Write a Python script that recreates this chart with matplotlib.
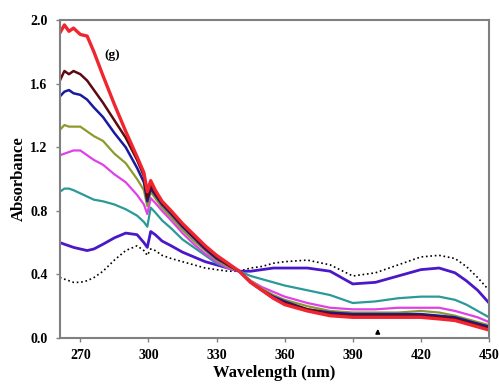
import numpy as np
import matplotlib.pyplot as plt

# wavelength grids (nm) and absorbance
wl_left = [261, 263, 265, 267, 270, 273, 276, 280, 285, 290, 295, 298, 299.5,
           301, 303, 306, 310, 315, 320, 325, 330, 335, 340]
wl_right = [340, 345, 350, 355, 360, 370, 380, 390, 400, 410, 420, 428, 435, 440, 445, 450]

red_l = [1.92, 1.97, 1.93, 1.95, 1.91, 1.90, 1.80, 1.65, 1.47, 1.30, 1.14, 1.04, 0.92,
         0.99, 0.93, 0.86, 0.80, 0.72, 0.65, 0.58, 0.52, 0.47, 0.42]
maroon_l = [1.62, 1.68, 1.66, 1.68, 1.66, 1.62, 1.56, 1.48, 1.37, 1.26, 1.12, 1.02, 0.88,
            0.96, 0.91, 0.85, 0.79, 0.71, 0.64, 0.57, 0.51, 0.46, 0.42]
navy_l = [1.52, 1.55, 1.56, 1.54, 1.53, 1.50, 1.45, 1.39, 1.29, 1.20, 1.07, 0.98, 0.86,
          0.94, 0.90, 0.84, 0.78, 0.70, 0.63, 0.56, 0.50, 0.46, 0.42]
olive_l = [1.31, 1.34, 1.33, 1.33, 1.33, 1.30, 1.27, 1.24, 1.16, 1.10, 1.00, 0.93, 0.83,
           0.92, 0.88, 0.82, 0.76, 0.68, 0.61, 0.55, 0.49, 0.45, 0.42]
magenta_l = [1.15, 1.16, 1.17, 1.18, 1.18, 1.15, 1.12, 1.09, 1.03, 0.98, 0.90, 0.84, 0.78,
             0.88, 0.85, 0.80, 0.74, 0.66, 0.59, 0.53, 0.48, 0.44, 0.42]
teal_l = [0.92, 0.94, 0.94, 0.93, 0.91, 0.89, 0.87, 0.86, 0.84, 0.81, 0.77, 0.73, 0.70,
          0.82, 0.79, 0.74, 0.69, 0.62, 0.57, 0.52, 0.47, 0.44, 0.42]
purple_l = [0.60, 0.59, 0.58, 0.57, 0.56, 0.55, 0.56, 0.59, 0.63, 0.66, 0.65, 0.60, 0.57,
            0.67, 0.65, 0.61, 0.58, 0.54, 0.51, 0.48, 0.46, 0.44, 0.42]
dotted_l = [0.38, 0.37, 0.36, 0.35, 0.35, 0.36, 0.38, 0.42, 0.49, 0.55, 0.58, 0.55, 0.52,
            0.56, 0.55, 0.52, 0.50, 0.48, 0.46, 0.44, 0.43, 0.42, 0.42]

red_r = [0.42, 0.35, 0.30, 0.25, 0.21, 0.17, 0.14, 0.13, 0.13, 0.13, 0.13, 0.12, 0.11, 0.09, 0.07, 0.05]
maroon_r = [0.42, 0.35, 0.30, 0.25, 0.22, 0.18, 0.15, 0.14, 0.14, 0.14, 0.14, 0.13, 0.12, 0.10, 0.08, 0.06]
navy_r = [0.42, 0.35, 0.30, 0.26, 0.23, 0.18, 0.16, 0.15, 0.15, 0.15, 0.15, 0.14, 0.13, 0.11, 0.09, 0.07]
olive_r = [0.42, 0.36, 0.31, 0.27, 0.24, 0.20, 0.17, 0.16, 0.16, 0.16, 0.17, 0.16, 0.14, 0.12, 0.10, 0.08]
magenta_r = [0.42, 0.36, 0.32, 0.29, 0.26, 0.22, 0.19, 0.18, 0.18, 0.19, 0.19, 0.19, 0.17, 0.15, 0.13, 0.10]
teal_r = [0.42, 0.39, 0.37, 0.35, 0.33, 0.30, 0.27, 0.22, 0.23, 0.25, 0.26, 0.26, 0.24, 0.21, 0.17, 0.13]
purple_r = [0.42, 0.42, 0.43, 0.44, 0.44, 0.44, 0.42, 0.34, 0.35, 0.39, 0.43, 0.44, 0.41, 0.36, 0.30, 0.22]
dotted_r = [0.42, 0.44, 0.45, 0.47, 0.48, 0.49, 0.46, 0.39, 0.41, 0.46, 0.51, 0.52, 0.50, 0.45, 0.38, 0.30]

series = [
    ("dotted", dotted_l, dotted_r, "black", 1.2, ":"),
    ("purple", purple_l, purple_r, "#4A18C8", 2.0, "-"),
    ("teal", teal_l, teal_r, "#2A9A98", 1.6, "-"),
    ("magenta", magenta_l, magenta_r, "#E040E8", 1.6, "-"),
    ("olive", olive_l, olive_r, "#8E9A2E", 1.6, "-"),
    ("navy", navy_l, navy_r, "#1A1AA0", 1.8, "-"),
    ("maroon", maroon_l, maroon_r, "#5C0A10", 1.8, "-"),
    ("red", red_l, red_r, "#F02530", 2.4, "-"),
]


def main():
    plt.rcParams['font.family'] = ['Liberation Serif', 'DejaVu Serif']
    fig = plt.figure(figsize=(4.99, 3.88), dpi=100)
    ax = fig.add_axes([0.120, 0.129, 0.860, 0.819])

    for name, left, right, color, lw, ls in series:
        wl = wl_left + wl_right[1:]
        ab = left + right[1:]
        ax.plot(wl, ab, color=color, linewidth=lw, linestyle=ls)

    ax.set_xlim(261, 450)
    ax.set_ylim(0, 2.0)
    ax.set_xticks([270, 300, 330, 360, 390, 420, 450])
    ax.set_yticks(np.arange(0, 2.01, 0.4))
    ax.yaxis.set_major_formatter(plt.FormatStrFormatter('%.1f'))

    for sp in ax.spines.values():
        sp.set_color('#808080')
        sp.set_linewidth(1.5)
    ax.tick_params(direction='out', length=3, width=1, color='#808080',
                   labelsize=10)
    ax.tick_params(axis='x', pad=5)
    ax.tick_params(axis='y', pad=6)
    for lab in ax.get_xticklabels() + ax.get_yticklabels():
        lab.set_fontweight('bold')

    ax.set_xlabel("Wavelength (nm)", fontsize=12, fontweight='bold', labelpad=2)
    ax.set_ylabel("Absorbance", fontsize=12, fontweight='bold', labelpad=2)
    ax.text(284, 1.78, "(g)", fontsize=9.5, fontweight='bold', ha='center', va='center')
    ax.annotate("", xy=(401, 0.075), xytext=(401, 0.015),
                arrowprops=dict(arrowstyle='-|>', color='black', lw=1.2, mutation_scale=6))

    fig.savefig("out.png", dpi=100)


if __name__ == "__main__":
    main()
